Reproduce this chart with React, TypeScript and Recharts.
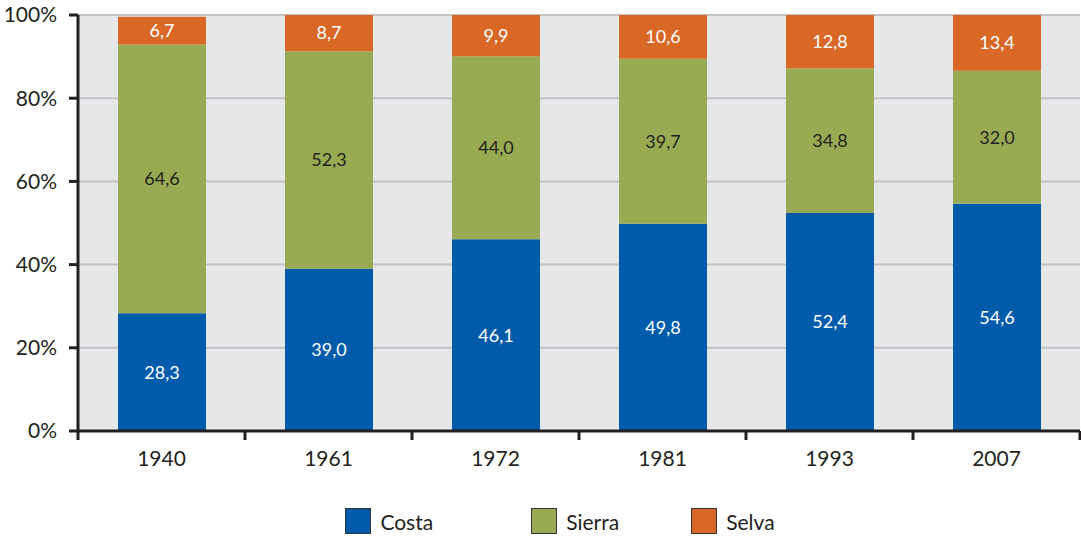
import { Bar, BarChart, CartesianGrid, LabelList, Legend, XAxis, YAxis } from "recharts";

const years = ["1940", "1961", "1972", "1981", "1993", "2007"];
const costa = [28.3, 39.0, 46.1, 49.8, 52.4, 54.6];
const sierra = [64.6, 52.3, 44.0, 39.7, 34.8, 32.0];
const selva = [6.7, 8.7, 9.9, 10.6, 12.8, 13.4];
const yTicks = [0, 20, 40, 60, 80, 100];

const data = years.map((year, i) => ({
  year,
  costa: costa[i],
  sierra: sierra[i],
  selva: selva[i],
}));

const FONT = "Lato, 'Open Sans', sans-serif";
const INK = "#231f20";

const series = [
  { key: "costa", name: "Costa", color: "#005baa", label: "#ffffff" },
  { key: "sierra", name: "Sierra", color: "#99ab52", label: INK },
  { key: "selva", name: "Selva", color: "#d96827", label: "#ffffff" },
];

const fmt = (v: any) => Number(v).toFixed(1).replace(".", ",");

function YearTick(props: any) {
  const { x, y, payload, index } = props;
  const half = payload?.offset ?? 83.4;
  return (
    <g>
      <line x1={x - half} x2={x - half} y1={y} y2={y + 9} stroke={INK} strokeWidth={3} />
      {index === years.length - 1 && (
        <line x1={x + half} x2={x + half} y1={y} y2={y + 9} stroke={INK} strokeWidth={3} />
      )}
      <text x={x} y={y + 35} textAnchor="middle" fontSize={21} fontFamily={FONT} fill={INK}>
        {payload.value}
      </text>
    </g>
  );
}

function LegendBox() {
  const gaps = [98, 72, 0];
  return (
    <div
      style={{
        height: 44,
        display: "flex",
        justifyContent: "center",
        alignItems: "flex-end",
        paddingLeft: 40,
        fontFamily: FONT,
        fontSize: 21,
        color: INK,
      }}
    >
      {series.map((s, i) => (
        <div
          key={s.key}
          style={{ display: "flex", alignItems: "center", marginRight: gaps[i], height: 30 }}
        >
          <span
            style={{
              width: 24,
              height: 24,
              background: s.color,
              border: "1.5px solid #333",
              marginRight: 9,
              display: "inline-block",
            }}
          />
          <span>{s.name}</span>
        </div>
      ))}
    </div>
  );
}

export default function App() {
  return (
    <div style={{ position: "absolute", left: 0, top: 0, width: 1081, height: 536, background: "#fff" }}>
      <BarChart
        width={1081}
        height={536}
        data={data}
        margin={{ top: 15, right: 1, left: 0, bottom: 0 }}
        barSize={88}
      >
        <CartesianGrid
          vertical={false}
          stroke="#c2c2c6"
          strokeWidth={2}
          fill="#e6e7e9"
        />
        <XAxis
          dataKey="year"
          height={61}
          axisLine={{ stroke: INK, strokeWidth: 3 }}
          tickLine={false}
          tickSize={0}
          tickMargin={0}
          interval={0}
          tick={<YearTick />}
        />
        <YAxis
          width={78}
          domain={[0, 100]}
          ticks={yTicks}
          allowDataOverflow
          tickFormatter={(v) => `${v}%`}
          axisLine={{ stroke: INK, strokeWidth: 3 }}
          tickLine={{ stroke: INK, strokeWidth: 3 }}
          tickSize={9}
          tickMargin={12}
          tick={{ fontSize: 21, fontFamily: FONT, fill: INK }}
        />
        <Legend verticalAlign="bottom" content={<LegendBox />} />
        {series.map((s) => (
          <Bar
            key={s.key}
            dataKey={s.key}
            name={s.name}
            stackId="a"
            fill={s.color}
            isAnimationActive={false}
          >
            <LabelList
              dataKey={s.key}
              position="center"
              formatter={fmt}
              fill={s.label}
              fontSize={18}
              fontFamily={FONT}
            />
          </Bar>
        ))}
      </BarChart>
    </div>
  );
}
